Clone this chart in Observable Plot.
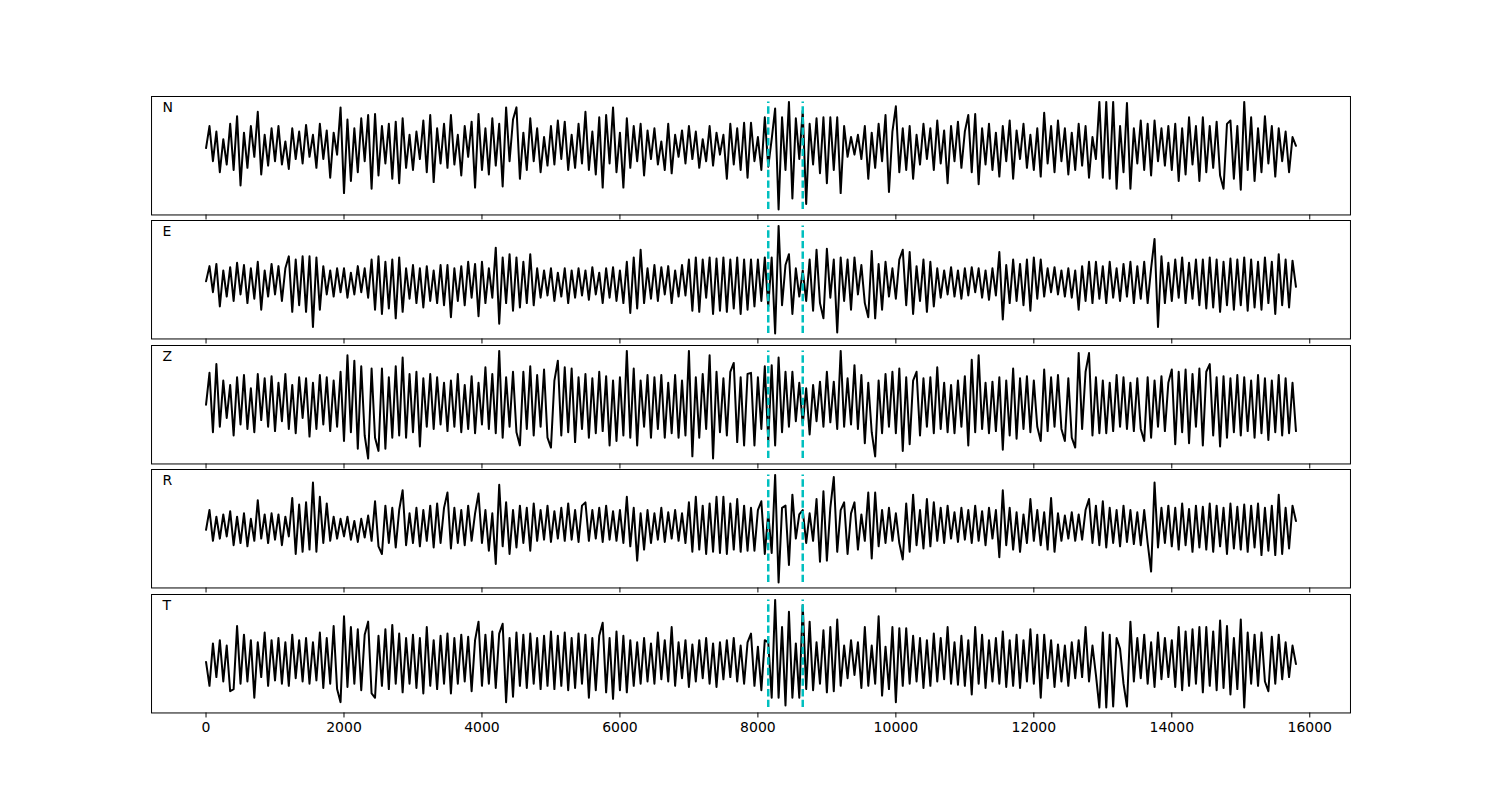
<!DOCTYPE html>
<html><head><meta charset="utf-8">
<script src="https://cdn.jsdelivr.net/npm/d3@7"></script>
<script src="https://cdn.jsdelivr.net/npm/@observablehq/plot@0.6"></script>
<style>
body{margin:0;background:#fff;}
#chart{position:relative;width:1500px;height:800px;font-family:"DejaVu Sans",sans-serif;}
#chart svg{position:absolute;left:0;overflow:visible;}
</style></head><body><div id="chart"></div>
<script>
// samples every 50 time units, from 0 to 15800
const sampleStep = 50;
const componentNames = ["N", "E", "Z", "R", "T"];
const pickTimes = [8150, 8650];
const xTicks = [0, 2000, 4000, 6000, 8000, 10000, 12000, 14000, 16000];

const seriesN = [
0,20,-12,15,-22,8,-15,22,-20,29,
-34,14,-18,20,-8,33,-24,12,-16,18,
-12,20,-15,6,-19,18,-10,15,-14,21,
-8,12,-18,22,-10,16,-27,14,-6,37,
-41,26,-30,18,-22,27,-12,30,-37,31,
-25,20,-14,22,-28,24,-32,27,-18,12,
-20,15,-10,25,-22,30,-31,18,-14,22,
-18,30,-15,12,-25,20,-8,24,-36,31,
-20,18,-24,27,-16,22,-35,37,-12,26,
37,-28,14,-20,27,-12,18,-22,10,-16,
20,-15,25,-10,24,-20,12,-18,22,-14,
33,-20,15,-24,28,-36,30,-14,37,-22,
14,-36,27,-18,20,-12,22,-25,16,-10,
18,-15,6,-20,22,-23,12,-8,16,-14,
20,-10,15,-18,8,-12,20,-16,14,-6,
12,-28,22,-15,18,-20,23,-27,
23,-12,
10,-20,28,-17,8,36,-56,28,-20,42,
-46,27,-10,34,-51,22,-15,27,-23,28,
-32,28,-20,28,-41,20,-8,10,-6,12,
-10,20,-28,14,-18,22,-12,30,-40,15,
38,-22,18,-20,20,-28,12,-15,22,-10,
18,-20,25,-14,16,-32,20,-12,24,-18,
15,30,-22,31,-33,18,-15,22,-20,14,
-26,20,-12,25,-28,16,-10,22,-18,12,
-20,18,-26,32,-14,20,-22,25,-12,18,
-24,14,-20,22,-16,20,-27,10,-10,42,
-27,42,-28,42,-37,20,-22,41,-37,18,
-14,25,-20,22,-25,25,-12,18,-16,20,
-20,22,-30,18,-24,28,-15,20,-30,28,
-22,20,-18,24,-25,-37,22,25,-28,20,
-38,42,-20,28,-30,18,-22,29,-14,20,
-26,18,-12,15,-22,10,2];

const seriesE = [
0,14,-10,16,-23,10,-14,13,-18,17,
-12,15,-20,12,-16,18,-26,10,-14,16,
-12,14,-18,12,23,-28,20,-22,23,-28,
23,-42,22,-26,14,-12,10,-14,12,-10,
12,-15,8,-12,14,-10,12,-15,20,-26,
23,-30,18,-25,20,-34,22,-28,12,-16,
15,-20,12,-24,14,-18,10,-20,15,-22,
15,-33,12,-18,14,-22,18,-15,16,-32,
18,-20,12,-15,31,-39,22,-20,25,-27,
22,-24,18,-20,25,-22,12,-15,10,-13,
12,-18,8,-14,12,-20,10,-15,12,-13,
10,-17,13,-12,8,-20,12,-15,13,-18,
10,-20,18,-29,22,-25,29,-20,12,-16,
15,-18,13,-12,14,-20,10,-14,15,-13,
20,-27,22,-28,20,-15,22,-30,21,-27,
22,-28,20,-25,22,-30,20,-26,
20,-23,
20,-18,22,-23,22,-48,51,-22,15,25,
-30,12,-14,10,-18,20,-27,29,-20,-34,
30,-15,20,-47,22,-18,20,-26,22,-12,
15,-20,-33,28,-34,16,-26,18,-14,12,
-16,20,29,-22,27,-30,14,-18,20,-28,
18,-23,12,-15,10,-12,13,-14,10,-16,
12,-13,13,-10,12,-15,10,-17,12,-13,
27,-35,15,-20,20,-18,16,-22,20,-27,
22,-16,20,-14,12,-10,13,-12,10,-14,
12,-15,10,-26,14,-18,18,-20,18,-16,
14,-20,18,-15,12,-18,16,-14,18,-20,
14,-16,18,-20,12,39,-42,23,-20,17,
-18,20,-15,22,-20,17,-16,20,-22,20,
-25,22,-24,20,-28,18,-22,21,-26,20,
-22,22,-27,20,-24,18,-26,22,-20,18,
-30,25,-22,20,-24,19,-5];

const seriesZ = [
0,29,-25,37,-20,22,-12,18,-28,25,
-18,27,-22,15,-25,28,-14,24,-20,26,
-24,20,-15,28,-22,18,-26,25,-12,24,
-29,20,-22,27,-18,25,-24,22,-20,30,
-33,45,-25,40,-40,35,-28,-49,33,-30,
-42,33,-40,25,-30,35,-28,43,-30,28,
-25,30,-38,24,-20,28,-22,25,-18,20,
-24,22,-20,28,-25,18,-22,26,-26,20,
-18,34,-22,28,-26,49,-30,25,-20,30,
-25,-37,30,-22,35,-28,27,-20,32,-30,
-39,22,40,-28,34,-25,33,-34,25,-22,
28,-30,24,-26,30,-24,26,-37,22,-33,
25,-28,49,-30,33,-37,22,-20,27,-30,
25,-22,27,-30,20,-26,27,-30,22,-28,
49,-47,25,-30,28,-22,45,-49,30,-25,
24,-28,30,38,-34,25,-37,28,
29,-37,
25,-22,35,-33,36,-37,43,-25,30,-20,
30,-15,20,-18,15,-27,18,-15,21,-20,
30,-16,21,-22,49,-20,24,-18,36,-22,
27,-35,20,-25,-47,22,-26,28,-20,30,
-26,33,-42,25,-36,22,30,-28,24,-20,
25,-26,34,-22,20,-25,18,-26,22,-20,
26,-37,41,-25,45,-22,20,-26,21,-24,
25,-41,22,-28,33,-31,24,-22,26,-25,
22,-20,-33,32,-24,25,-20,27,-22,-33,
24,-30,-39,47,-22,30,47,-28,25,-26,
22,-26,20,-24,27,-20,25,-22,20,-24,
24,-22,-33,25,-30,22,-20,26,-24,20,
32,-36,30,-25,32,-35,28,-20,33,-37,
30,37,-28,25,-38,26,-30,24,-25,27,
-28,25,-24,22,-30,27,-26,24,-32,22,
-25,27,-28,24,-26,20,-24];

const seriesR = [
0,18,-10,12,-8,14,-6,17,-14,12,
-12,15,-15,10,-10,27,-8,14,-12,15,
-9,14,-14,12,-6,29,-22,23,-20,25,
-18,43,-20,30,-12,24,-10,12,-8,10,
-6,12,-9,8,-11,10,-7,13,-10,26,
-15,-22,22,-12,20,-16,18,36,-14,15,
-12,20,-15,18,-10,22,-16,24,-12,20,
34,-17,20,-12,18,-14,22,-10,15,33,
-12,18,-19,15,-31,41,-15,25,-22,18,
-16,22,-12,20,-19,24,-10,18,-9,22,
-11,17,-8,20,-10,24,-9,18,-11,22,
25,-10,18,-8,20,-11,22,-9,17,-10,
18,-12,30,-15,20,-28,15,-18,18,-12,
15,-9,20,-11,16,-8,18,-10,15,-12,
25,-20,30,-18,22,-22,24,-20,30,-21,
30,-22,24,-18,28,-20,22,-19,
20,-19,
18,26,-22,15,-21,50,-48,20,22,-32,
32,-8,14,18,-12,15,-10,28,-29,35,
-28,20,48,-20,18,25,-22,15,25,-18,
14,-10,34,-26,34,-15,18,-12,20,-10,
15,-12,-27,24,-20,32,-14,18,-17,28,
-15,25,-10,20,-12,22,-8,16,-11,20,
-9,18,-12,22,-10,17,-14,20,-8,18,
-25,36,-14,20,-18,16,-20,14,-12,28,
-10,18,-14,16,-18,29,-20,15,-10,13,
-8,16,-10,14,-9,18,28,-12,22,-14,
26,-16,20,-12,18,-15,22,-11,18,-13,
16,-14,18,-12,-38,43,-16,20,-12,22,
-15,20,-18,24,-14,19,-20,22,-16,21,
-18,24,-20,22,-15,20,-22,24,-17,21,
-18,23,-20,22,-16,24,-23,20,-19,22,
-23,32,-22,20,-17,22,8];

const seriesT = [
0,-22,17,-14,20,-18,15,-27,-25,33,
-20,25,-18,20,-33,18,-14,27,-22,20,
-17,22,-20,18,-22,25,-15,20,-18,22,
-20,18,-17,27,-24,22,-20,33,-25,-37,
42,-23,32,-20,30,-26,25,37,-29,-33,
24,-22,30,-25,34,-20,26,-28,22,-20,
25,-24,22,-29,32,-22,20,-25,24,-20,
26,-29,22,-20,25,-18,23,-27,20,37,
-22,25,-20,28,-24,26,35,-37,22,-32,
27,-22,25,-24,26,-20,22,-25,24,-22,
28,-25,24,-22,27,-26,22,-24,26,-20,
25,-33,22,-26,24,36,-28,22,-34,28,
-26,24,-28,20,-22,18,-20,22,-18,17,
-20,27,-16,20,-18,32,-22,18,-15,20,
-23,16,-18,20,-15,22,-20,17,-23,18,
-16,20,-14,22,-18,15,-20,18,
26,-22,
14,-26,20,18,-33,57,-33,32,-40,46,
-33,17,-33,52,-25,37,-26,18,-20,29,
-28,32,-27,39,-22,15,-15,20,-12,18,
-24,32,-22,15,-20,42,-31,14,-25,32,
-37,31,-22,31,-20,24,-18,22,-24,20,
-22,26,-18,22,-16,32,-20,18,-21,24,
-22,20,-30,32,-20,25,-24,20,-18,22,
-20,28,-23,20,-22,25,-24,20,-18,30,
-20,25,-33,25,-15,20,-23,16,-18,15,
-22,18,-15,20,-14,32,-18,15,-12,-42,
27,-42,25,-41,22,12,-20,-41,37,-18,
22,-15,25,-20,18,-23,27,-16,22,-14,
20,-23,32,-26,28,-22,30,-20,32,-28,
32,-22,28,-26,38,-24,33,-30,22,-25,
39,-42,27,-20,25,-22,27,-18,-27,23,
-20,25,-16,18,-14,15,-2];

const allSeries = [seriesN, seriesE, seriesZ, seriesR, seriesT];

const figW = 1500, axTop = 96, axBottom = 712, hspace = 0.05;
const nP = componentNames.length;
const panelH = (axBottom - axTop) / (nP + (nP - 1) * hspace);
const gap = panelH * hspace;
const mTop = 6, mBottomInner = 8, mBottomLast = 40;
const chart = document.getElementById("chart");

componentNames.forEach((name, i) => {
  const vals = allSeries[i];
  const data = vals.map((v, k) => ({t: k * sampleStep, v}));
  const lo = d3.min(vals), hi = d3.max(vals), pad = 0.05 * (hi - lo);
  const last = i === nP - 1;
  const mb = last ? mBottomLast : mBottomInner;
  const top = axTop + i * (panelH + gap);
  const plot = Plot.plot({
    width: figW,
    height: panelH + mTop + mb,
    marginLeft: 151, marginRight: 150, marginTop: mTop, marginBottom: mb,
    x: {domain: [-790, 16590], label: null},
    y: {domain: [lo - pad, hi + pad], axis: null, label: null},
    style: {fontFamily: "DejaVu Sans", fontSize: "14px", color: "black", background: "transparent", overflow: "visible"},
    marks: [
      Plot.axisX({ticks: xTicks, tickSize: 5, tickPadding: 4, label: null, tickFormat: last ? d3.format("d") : () => "", fontSize: 14, stroke: "black"}),
      Plot.line(data, {x: "t", y: "v", stroke: "black", strokeWidth: 2}),
      Plot.ruleX(pickTimes, {y1: lo, y2: hi, stroke: "#00bfbf", strokeWidth: 2.5, strokeDasharray: "7.4,3.2"}),
      Plot.frame({stroke: "black", strokeWidth: 1}),
      Plot.text([name], {frameAnchor: "top-left", dx: 11, dy: 6, fontSize: 14, textAnchor: "start", lineAnchor: "top", fill: "black"})
    ]
  });
  plot.style.top = (top - mTop) + "px";
  chart.appendChild(plot);
});
</script>
</body></html>
